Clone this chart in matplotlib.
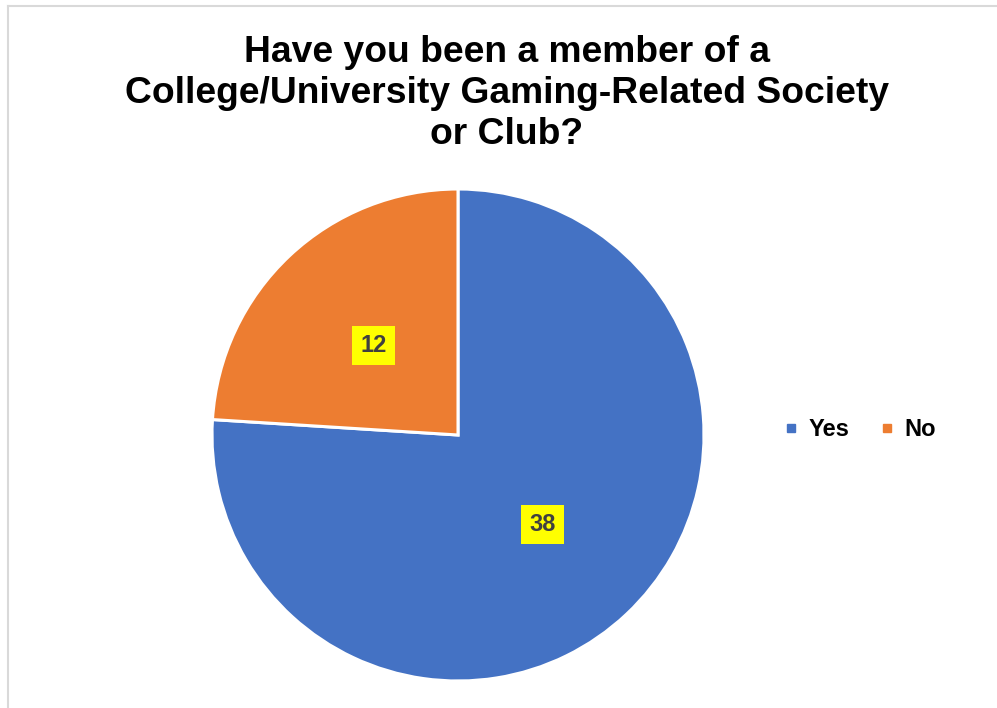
import matplotlib
matplotlib.use("Agg")
import matplotlib.pyplot as plt
from matplotlib.lines import Line2D

categories = ["Yes", "No"]
counts = [38, 12]
colors = ["#4472C4", "#ED7D31"]
title = "Have you been a member of a\nCollege/University Gaming-Related Society\nor Club?"

W, H = 997, 708
fig = plt.figure(figsize=(W / 100, H / 100), dpi=100)
fig.patch.set_facecolor("white")
plt.rcParams["font.family"] = ["Liberation Sans", "DejaVu Sans"]

# chart-area border (top and left edges visible)
fig.add_artist(Line2D([7.5 / W, 7.5 / W], [0, 1 - 6 / H], transform=fig.transFigure,
                      color="#D9D9D9", lw=1.5))
fig.add_artist(Line2D([7.5 / W, 1], [1 - 6 / H, 1 - 6 / H], transform=fig.transFigure,
                      color="#D9D9D9", lw=1.5))

cx, cy, r = 458, 435, 246
ax = fig.add_axes([(cx - r) / W, (H - cy - r) / H, 2 * r / W, 2 * r / H])
wedges, texts = ax.pie(
    counts, colors=colors, startangle=90, counterclock=False,
    labels=[str(c) for c in counts], labeldistance=0.5,
    wedgeprops=dict(edgecolor="white", linewidth=2.2),
    textprops=dict(fontsize=17, fontweight="bold", color="#404040",
                   ha="center", va="center"),
)
for t in texts:
    t.set_bbox(dict(boxstyle="square,pad=0.35", facecolor="#FFFF00", edgecolor="none"))
ax.set_xlim(-1, 1)
ax.set_ylim(-1, 1)
ax.set_aspect("equal")
ax.axis("off")

fig.text(507 / W, 1 - 93.5 / H, title, ha="center", va="center", fontsize=26.8,
         fontweight="bold", color="black", linespacing=1.24)

handles = [Line2D([], [], marker="s", linestyle="none", markersize=6,
                  markerfacecolor=c, markeredgecolor=c) for c in colors]
leg = fig.legend(handles, categories, loc="center", bbox_to_anchor=(860 / W, 1 - 430 / H),
                 ncol=2, frameon=False, handlelength=0.6, handletextpad=0.45,
                 columnspacing=1.3, prop=dict(size=17, weight="bold"))

fig.savefig("out.png", dpi=100, facecolor="white")
